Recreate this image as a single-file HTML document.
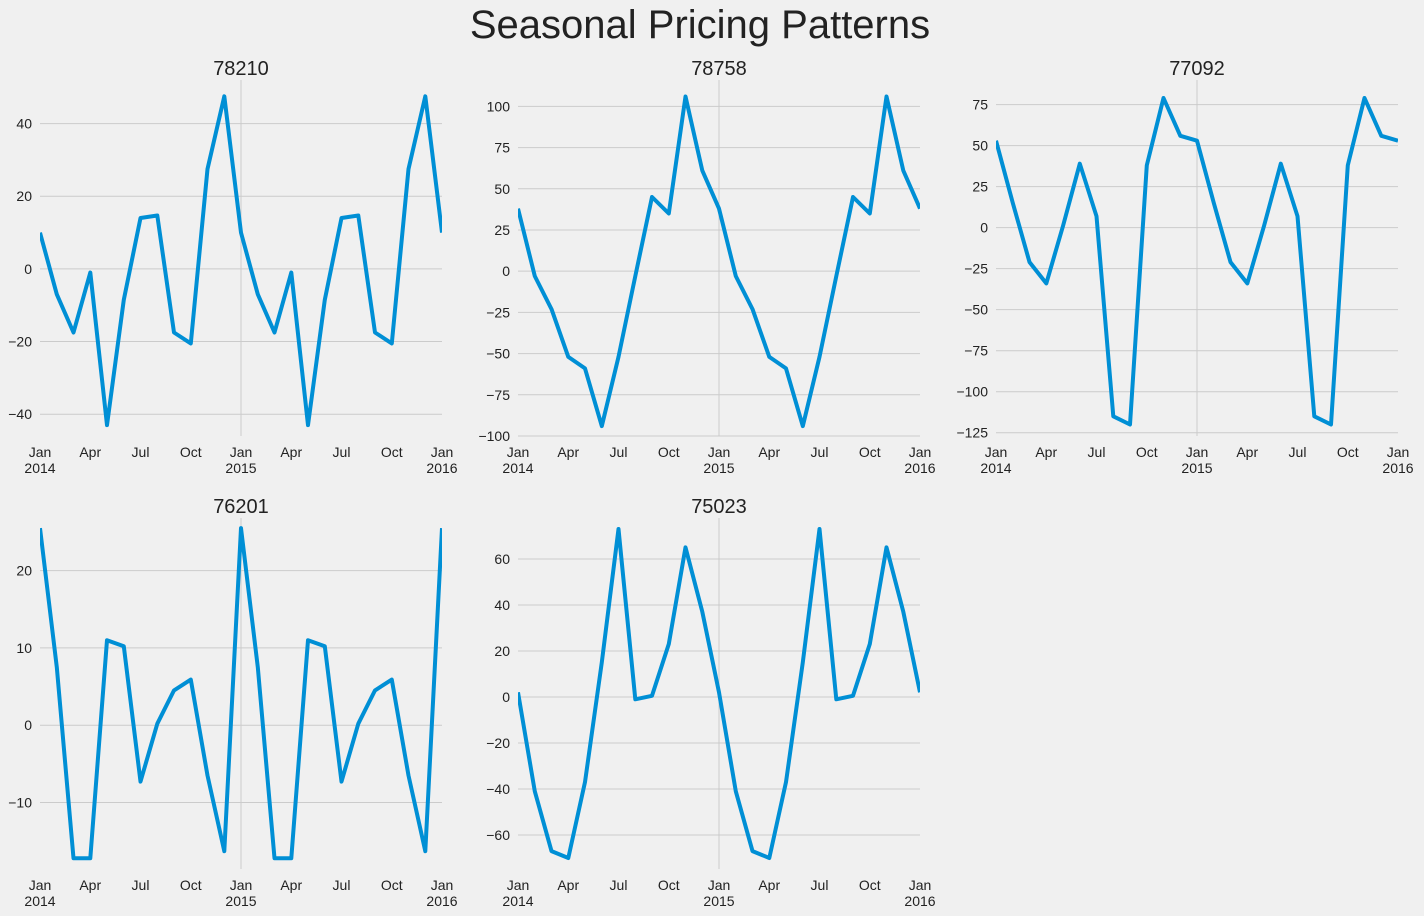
<!DOCTYPE html>
<html><head><meta charset="utf-8"><style>
body{margin:0;background:#f0f0f0;}
svg{display:block;font-family:"Liberation Sans",sans-serif;}
</style></head><body>
<svg id="fig" width="1424" height="916">
<rect width="1424" height="916" fill="#f0f0f0"/>
<text x="700" y="38" font-size="40" text-anchor="middle" fill="#222">Seasonal Pricing Patterns</text>
</svg>
<script>
const titles = ["78210","78758","77092","76201","75023"];
const s78210 = [10,-7,-17.5,-1,-43,-8.5,14,14.7,-17.5,-20.5,27.5,47.5];
const s78758 = [38,-3,-23,-52,-59,-94,-52,-3,45,35,106,61];
const s77092 = [53,15,-21,-34,1,39,7,-115,-120,38,79,56];
const s76201 = [25.5,7.5,-17.2,-17.2,11,10.2,-7.3,0.2,4.5,5.9,-6.5,-16.3];
const s75023 = [2,-41,-67,-70,-37,15,73,-1,0.5,23,65,37];
const seriesList = [s78210,s78758,s77092,s76201,s75023];
const yTicks = [[-40,-20,0,20,40],[-100,-75,-50,-25,0,25,50,75,100],[-125,-100,-75,-50,-25,0,25,50,75],[-10,0,10,20],[-60,-40,-20,0,20,40,60]];
const yRanges = [[-46,52],[-100,116],[-127,90],[-18.6,26.8],[-74.8,77.8]];
const monthLabels = ["Jan","Apr","Jul","Oct","Jan","Apr","Jul","Oct","Jan"];
const yearLabels = ["2014","2015","2016"];

const NS="http://www.w3.org/2000/svg";
const svg=document.getElementById('fig');
function mk(tag,attrs,parent){const e=document.createElementNS(NS,tag);for(const k in attrs)e.setAttribute(k,attrs[k]);(parent||svg).appendChild(e);return e;}
const boxes=[[40,80,402,356],[518,80,402,356],[996,80,402,356],[40,518,402,351],[518,518,402,351]];
seriesList.forEach((ser,p)=>{
  const [L,T,W,H]=boxes[p];
  const g=mk('g',{});
  
  
  const [lo,hi]=yRanges[p];
  const X=i=>L+i*W/24;
  const Y=v=>T+H-(v-lo)/(hi-lo)*H;
  yTicks[p].forEach(t=>{
    const y=Y(t);
    const gl=mk('line',{x1:L,x2:L+W,y1:y,y2:y,stroke:'#cbcbcb','stroke-width':1},g);
    
    
    const tx=mk('text',{x:L-8,y:y+5,'font-size':14,'text-anchor':'end',fill:'#222'},g);
    tx.textContent=t<0?'\u2212'+Math.abs(t):String(t);
    
    
  });
  const vg=mk('line',{x1:X(12),x2:X(12),y1:T,y2:T+H,stroke:'#cbcbcb','stroke-width':1},g);
  
  
  monthLabels.forEach((m,k)=>{
    const tx=mk('text',{x:X(k*3),y:T+H+21,'font-size':14,'text-anchor':'middle',fill:'#222'},g);
    tx.textContent=m;
    
    
  });
  yearLabels.forEach((yr,k)=>{
    const tx=mk('text',{x:X(k*12),y:T+H+37,'font-size':14,'text-anchor':'middle',fill:'#222'},g);
    tx.textContent=yr;
    
    
  });
  const pts=[];
  for(let i=0;i<=24;i++)pts.push(X(i).toFixed(1)+','+Y(ser[i%12]).toFixed(1));
  const cp=mk('clipPath',{id:'c'+p},g);
  mk('rect',{x:L,y:T,width:W,height:H},cp);
  const pl=mk('polyline',{points:pts.join(' '),fill:'none',stroke:'#008fd5','stroke-width':4,'stroke-linejoin':'round','clip-path':'url(#c'+p+')'},g);
  
  
  const tt=mk('text',{x:L+W/2,y:T-5,'font-size':20,'text-anchor':'middle',fill:'#222'},g);
  tt.textContent=titles[p];
  
  
});
</script>
</body></html>
